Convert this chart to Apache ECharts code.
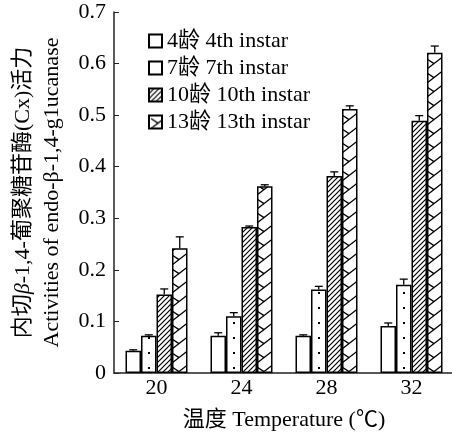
<!DOCTYPE html>
<html>
<head>
<meta charset="utf-8">
<script src="https://cdn.jsdelivr.net/npm/echarts@6/dist/echarts.min.js"></script>
<style>
  html, body { margin: 0; padding: 0; background: #fff; }
  #main { width: 452px; height: 436px; }
</style>
</head>
<body>
<div id="main"></div>
<script>
const temps = ['20', '24', '28', '32']
const seriesNames = ['4龄 4th instar', '7龄 7th instar', '10龄 10th instar', '13龄 13th instar']
const instar4 = [0.043, 0.072, 0.072, 0.091]
const instar7 = [0.072, 0.110, 0.162, 0.171]
const instar10 = [0.152, 0.283, 0.382, 0.489]
const instar13 = [0.242, 0.362, 0.512, 0.621]
const err4 = [0.002, 0.006, 0.002, 0.006]
const err7 = [0.002, 0.007, 0.006, 0.011]
const err10 = [0.011, 0.002, 0.008, 0.010]
const err13 = [0.022, 0.003, 0.006, 0.013]

const font = "'Liberation Serif', 'Noto Sans CJK SC', serif"
const barW = 15.5

// fill patterns (tile width = one category band so the marks line up in every group)
function makePattern (w, h, draw) {
  let c = document.createElement('canvas')
  c.width = w
  c.height = h
  let ctx = c.getContext('2d')
  ctx.fillStyle = '#fff'
  ctx.fillRect(0, 0, w, h)
  ctx.strokeStyle = '#000'
  ctx.fillStyle = '#000'
  draw(ctx)
  return { image: c, repeat: 'repeat' }
}
const dotFill = makePattern(85, 15, function (ctx) {
  ctx.fillRect(63, 7, 2, 2)
})
const hatchFill = makePattern(5, 5, function (ctx) {
  ctx.lineWidth = 1.2
  ctx.beginPath()
  ctx.moveTo(-1, 6); ctx.lineTo(6, -1)
  ctx.moveTo(-1, 1); ctx.lineTo(1, -1)
  ctx.moveTo(4, 6); ctx.lineTo(6, 4)
  ctx.stroke()
})
const zigFill = makePattern(85, 14, function (ctx) {
  ctx.lineWidth = 1.3
  let x0 = 2
  ctx.beginPath()
  ctx.moveTo(x0, 13); ctx.lineTo(x0 + 15.5, 1)
  ctx.moveTo(x0, 3); ctx.lineTo(x0 + 7, 7.6)
  ctx.stroke()
})

const values = [instar4, instar7, instar10, instar13]
const errs = [err4, err7, err10, err13]
const fills = ['#fff', dotFill, hatchFill, zigFill]

let series = []
for (let s = 0; s < 4; s++) {
  series.push({
    name: seriesNames[s],
    type: 'bar',
    data: values[s],
    barWidth: barW,
    barGap: '0%',
    itemStyle: { color: fills[s], borderColor: '#000', borderWidth: 1.5 },
    emphasis: { disabled: true }
  })
}

let errData = []
for (let s = 0; s < 4; s++) {
  for (let i = 0; i < temps.length; i++) {
    errData.push([i, values[s][i], errs[s][i], s])
  }
}
series.push({
  type: 'custom',
  data: errData,
  encode: { x: 0, y: 1 },
  z: 5,
  renderItem: function (params, api) {
    let s = api.value(3)
    let v = api.value(1)
    let e = api.value(2)
    let x = api.coord([api.value(0), 0])[0] + (s - 1.5) * barW
    let y0 = api.coord([api.value(0), v])[1]
    let y1 = api.coord([api.value(0), v + e])[1]
    let st = { stroke: '#000', lineWidth: 1.3 }
    return {
      type: 'group',
      children: [
        { type: 'line', shape: { x1: x, y1: y0, x2: x, y2: y1 }, style: st },
        { type: 'line', shape: { x1: x - 4, y1: y1, x2: x + 4, y2: y1 }, style: st }
      ]
    }
  }
})

let chart = echarts.init(document.getElementById('main'))
chart.setOption({
  animation: false,
  textStyle: { fontFamily: font },
  grid: { left: 114, right: -2, top: 12, bottom: 63, outerBoundsMode: 'none', containLabel: false },
  legend: {
    data: seriesNames,
    orient: 'vertical',
    left: 143,
    top: 25,
    icon: 'rect',
    itemWidth: 13,
    itemHeight: 13,
    itemGap: 5,
    textStyle: { fontFamily: font, fontSize: 22, color: '#000' }
  },
  xAxis: {
    type: 'category',
    data: temps,
    name: '温度 Temperature (℃)',
    nameLocation: 'middle',
    nameGap: 36,
    nameTextStyle: { fontFamily: font, fontSize: 22, color: '#000' },
    axisLine: { lineStyle: { color: '#222', width: 1.5 } },
    axisTick: { inside: true, length: 4, lineStyle: { color: '#222' } },
    axisLabel: { fontFamily: font, fontSize: 22, color: '#000', margin: 4 }
  },
  yAxis: {
    type: 'value',
    min: 0,
    max: 0.7,
    interval: 0.1,
    name: '内切{i|β}-1,4-葡聚糖苷酶(Cx)活力\nActivities of endo-β-1,4-g1ucanase',
    nameLocation: 'middle',
    nameRotate: 90,
    nameGap: 47,
    nameTextStyle: {
      fontFamily: font,
      fontSize: 22,
      lineHeight: 29,
      color: '#000',
      rich: { i: { fontStyle: 'italic', fontFamily: font, fontSize: 22, color: '#000' } }
    },
    splitLine: { show: false },
    axisLine: { show: true, lineStyle: { color: '#222', width: 1.5 } },
    axisTick: { show: true, inside: true, length: 5, lineStyle: { color: '#222' } },
    axisLabel: { fontFamily: font, fontSize: 22, color: '#000', margin: 8 }
  },
  series: series
})
</script>
</body>
</html>
